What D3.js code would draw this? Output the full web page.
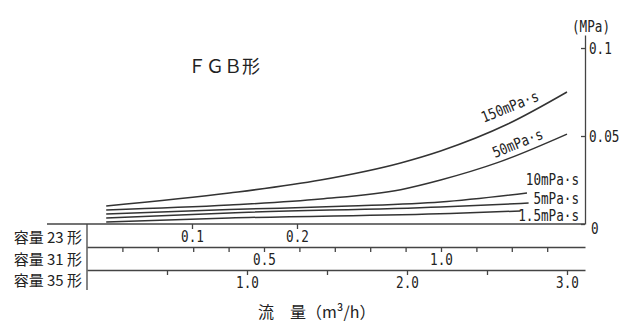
<!DOCTYPE html>
<html>
<head>
<meta charset="utf-8">
<script src="https://cdn.jsdelivr.net/npm/d3@7"></script>
<style>
  body { margin: 0; background: #fff; }
  text { fill: #222; }
  .mono { font-family: "DejaVu Sans Mono", monospace; font-size: 15px; }
  .cjk { font-family: "Noto Sans CJK JP", sans-serif; }
</style>
</head>
<body>
<script>
// flow in m3/h on the 35形 scale, pressure loss in MPa
var names = ["150mPa·s", "50mPa·s", "10mPa·s", "5mPa·s", "1.5mPa·s"];

var flow150 = [0.12, 0.89, 1.46, 1.96, 2.21, 2.63, 3.0],
	loss150 = [0.0102, 0.0176, 0.025, 0.0347, 0.0415, 0.0568, 0.075];
var flow50 = [0.12, 0.89, 1.46, 1.96, 2.21, 2.57, 3.0],
	loss50 = [0.008, 0.0108, 0.0142, 0.0195, 0.025, 0.035, 0.0511];
var flow10 = [0.12, 0.89, 1.64, 2.21, 2.75],
	loss10 = [0.0057, 0.0082, 0.0102, 0.0125, 0.0176];
var flow5 = [0.12, 0.89, 2.21, 2.76],
	loss5 = [0.0034, 0.0063, 0.0097, 0.0119];
var flow15 = [0.12, 0.89, 2.27, 2.71],
	loss15 = [0.0011, 0.0034, 0.006, 0.0074];

var rowNames = ["容量 23 形", "容量 31 形", "容量 35 形"];
var ticks23 = [0.1, 0.2],
	labels23 = [0.1, 0.2];
var ticks31 = [0.1, 0.2, 0.3, 0.4, 0.5, 0.6, 0.7, 0.8, 0.9, 1.0, 1.1, 1.2, 1.3],
	labels31 = [0.5, 1.0];
var ticks35 = [0.5, 1.0, 1.5, 2.0, 2.5, 3.0],
	labels35 = [1.0, 2.0, 3.0];
var yTicks = [0, 0.05, 0.1];

var width = 630,
	height = 325,
	x0 = 87,
	x1 = 585,
	yBase = 224,
	charW = 7.6;

var svg = d3.select("body").append("svg")
			.attr("width", width)
			.attr("height", height);

// squeeze the mono text to the narrow half-width look
function squeeze(sel){
	sel.each(function(){
		var t = d3.select(this).text();
		if(t.length) d3.select(this).attr("textLength", t.length * charW).attr("lengthAdjust", "spacingAndGlyphs");
	});
}

// same range, three flow scales (one per pump size)
var x35 = d3.scaleLinear().domain([0, 3.1125]).range([x0, x1]),
	x31 = d3.scaleLinear().domain([0, 1.4068]).range([x0, x1]),
	x23 = d3.scaleLinear().domain([0, 0.4743]).range([x0, x1]);

var y = d3.scaleLinear().domain([0, 0.1074]).range([yBase, 35]);

function fmt(d){
	return d === 0 ? "0" : (d < 0.1 ? d.toFixed(2) : d.toFixed(1));
}

// right pressure axis
var yAxis = d3.axisRight(y)
	.tickValues(yTicks)
	.tickSize(-4)
	.tickSizeOuter(0)
	.tickPadding(4)
	.tickFormat(fmt);

var gy = svg.append("g")
	.attr("transform", "translate(" + x1 + ",0)")
	.call(yAxis);
gy.selectAll("path, line").attr("stroke", "#444").attr("stroke-width", 1.3);
gy.selectAll("text").attr("class", "mono").attr("fill", "#222").attr("font-size", null).attr("font-family", null)
	.attr("dx", function(d){ return d === 0 ? 2 : 0; })
	.attr("dy", function(d){ return d === 0 ? "0.62em" : "0.36em"; })
	.call(squeeze);

svg.append("text")
	.attr("class", "mono")
	.attr("x", 572)
	.attr("y", 32)
	.text("(MPa)")
	.call(squeeze);

// flow rows
var rows = [
	{ scale: x23, ticks: ticks23, labels: labels23, top: yBase },
	{ scale: x31, ticks: ticks31, labels: labels31, top: 247 },
	{ scale: x35, ticks: ticks35, labels: labels35, top: 270 }
];

svg.append("line")
	.attr("x1", 47).attr("x2", x1)
	.attr("y1", yBase).attr("y2", yBase)
	.attr("stroke", "#444").attr("stroke-width", 1.3);

svg.append("line")
	.attr("x1", x0).attr("x2", x0)
	.attr("y1", yBase).attr("y2", 290)
	.attr("stroke", "#444").attr("stroke-width", 1.3);

rows.forEach(function(r, i){
	var ax = d3.axisBottom(r.scale)
		.tickValues(r.ticks)
		.tickSize(5)
		.tickSizeOuter(0)
		.tickPadding(2)
		.tickFormat(function(d){
			return r.labels.some(function(v){ return Math.abs(v - d) < 1e-9; }) ? d.toFixed(1) : "";
		});

	var g = svg.append("g")
		.attr("transform", "translate(0," + r.top + ")")
		.call(ax);
	g.selectAll("path, line").attr("stroke", "#444").attr("stroke-width", 1.3);
	g.selectAll("text").attr("class", "mono").attr("fill", "#222").attr("font-size", null).attr("font-family", null)
		.call(squeeze);
	if(i === 0) g.select("path").remove();

	svg.append("text")
		.attr("class", "cjk")
		.attr("x", 82)
		.attr("y", [243, 265, 286][i])
		.attr("text-anchor", "end")
		.style("font-size", "15px")
		.text(rowNames[i]);
});

// curves
var series = [
	{ name: names[0], flow: flow150, loss: loss150 },
	{ name: names[1], flow: flow50, loss: loss50 },
	{ name: names[2], flow: flow10, loss: loss10 },
	{ name: names[3], flow: flow5, loss: loss5 },
	{ name: names[4], flow: flow15, loss: loss15 }
];

var line = d3.line()
	.x(function(d){ return x35(d[0]); })
	.y(function(d){ return y(d[1]); })
	.curve(d3.curveMonotoneX);

svg.selectAll(".curve")
	.data(series)
	.enter()
	.append("path")
	.attr("class", "curve")
	.attr("fill", "none")
	.attr("stroke", "#333")
	.attr("stroke-width", 1.5)
	.attr("d", function(s){
		return line(s.flow.map(function(f, i){ return [f, s.loss[i]]; }));
	});

// curve labels
svg.append("text").attr("class", "mono")
	.attr("transform", "translate(" + x35(2.48) + "," + y(0.0575) + ") rotate(-22)")
	.text(names[0])
	.call(squeeze);
svg.append("text").attr("class", "mono")
	.attr("transform", "translate(" + x35(2.55) + "," + y(0.0375) + ") rotate(-22)")
	.text(names[1])
	.call(squeeze);

[[names[2], 185], [names[3], 204], [names[4], 221]].forEach(function(l){
	svg.append("text").attr("class", "mono")
		.attr("x", 579)
		.attr("y", l[1])
		.attr("text-anchor", "end")
		.text(l[0])
		.call(squeeze);
});

// titles
svg.append("text")
	.attr("class", "cjk")
	.attr("x", 188)
	.attr("y", 73)
	.style("font-size", "18px")
	.text("ＦＧＢ形");

svg.append("text")
	.attr("class", "cjk")
	.attr("x", 258)
	.attr("y", 318)
	.style("font-size", "16px")
	.text("流　量（m³/h）");
</script>
</body>
</html>
